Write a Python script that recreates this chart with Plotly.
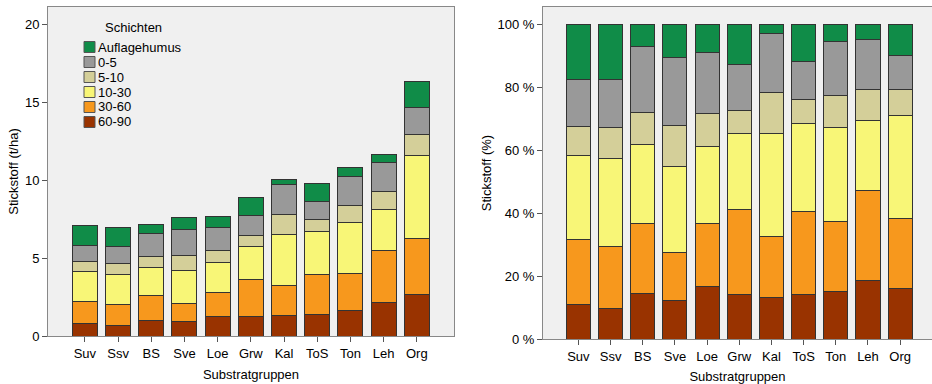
import plotly.graph_objects as go

categories = ["Suv", "Ssv", "BS", "Sve", "Loe", "Grw", "Kal", "ToS", "Ton", "Leh", "Org"]
layer_names = ["60-90", "30-60", "10-30", "5-10", "0-5", "Auflagehumus"]

# Stickstoff (t/ha) per layer
t_60_90 = [0.77, 0.68, 1.00, 0.94, 1.26, 1.24, 1.32, 1.39, 1.62, 2.16, 2.63]
t_30_60 = [1.47, 1.37, 1.61, 1.15, 1.56, 2.39, 1.93, 2.58, 2.40, 3.35, 3.63]
t_10_30 = [1.88, 1.92, 1.77, 2.08, 1.88, 2.14, 3.27, 2.76, 3.27, 2.59, 5.30]
t_5_10 = [0.64, 0.71, 0.73, 0.98, 0.81, 0.66, 1.30, 0.71, 1.06, 1.15, 1.37]
t_0_5 = [1.07, 1.05, 1.47, 1.69, 1.48, 1.28, 1.90, 1.19, 1.86, 1.86, 1.71]
t_aufl = [1.26, 1.24, 0.54, 0.77, 0.70, 1.16, 0.30, 1.16, 0.60, 0.54, 1.71]

# Stickstoff (%) per layer
p_60_90 = [10.8, 9.8, 14.4, 12.3, 16.6, 14.1, 13.2, 14.0, 15.1, 18.5, 16.1]
p_30_60 = [20.9, 19.6, 22.2, 15.2, 20.2, 26.9, 19.3, 26.5, 22.3, 28.5, 22.3]
p_10_30 = [26.5, 27.8, 25.0, 27.3, 24.3, 24.1, 32.6, 28.0, 29.8, 22.5, 32.4]
p_5_10 = [9.2, 10.1, 10.3, 13.0, 10.6, 7.4, 13.0, 7.5, 10.1, 9.8, 8.5]
p_0_5 = [14.9, 15.0, 20.9, 21.6, 19.4, 14.7, 19.0, 12.1, 17.3, 15.9, 10.6]
p_aufl = [17.7, 17.7, 7.2, 10.6, 8.9, 12.8, 2.9, 11.9, 5.4, 4.8, 10.1]

left_ticks = [0, 5, 10, 15, 20]
right_ticks = [0, 20, 40, 60, 80, 100]
right_ticklabels = ["0 %", "20 %", "40 %", "60 %", "80 %", "100 %"]

colors = ["#993300", "#f7981d", "#f8f677", "#d4cf99", "#999999", "#108c48"]

left_data = [t_60_90, t_30_60, t_10_30, t_5_10, t_0_5, t_aufl]
right_data = [p_60_90, p_30_60, p_10_30, p_5_10, p_0_5, p_aufl]

W, H = 932, 384
FONT = "Liberation Sans, Arial, sans-serif"
FS = 13
TXT = "#000000"

fig = go.Figure()
for name, col, lv in zip(layer_names, colors, left_data):
    fig.add_trace(go.Bar(x=categories, y=lv, name=name,
                         marker=dict(color=col, line=dict(color="#333333", width=1)),
                         xaxis="x", yaxis="y", showlegend=False))
for name, col, rv in zip(layer_names, colors, right_data):
    fig.add_trace(go.Bar(x=categories, y=rv, name=name,
                         marker=dict(color=col, line=dict(color="#333333", width=1)),
                         xaxis="x2", yaxis="y2", showlegend=False))

# Legend (drawn in paper pixels, top entry = last layer)
shapes = []
annotations = [dict(x=103 / W, y=1 - 28 / H, xref="paper", yref="paper", xanchor="left", yanchor="middle",
                    text="Schichten", showarrow=False, font=dict(family=FONT, size=FS, color=TXT))]
for i, (name, col) in enumerate(zip(reversed(layer_names), reversed(colors))):
    yc = 47 + 15 * i
    shapes.append(dict(type="rect", xref="paper", yref="paper",
                       x0=84 / W, x1=95 / W, y0=1 - (yc - 5.5) / H, y1=1 - (yc + 5.5) / H,
                       fillcolor=col, line=dict(color="#555555", width=1)))
    annotations.append(dict(x=96 / W, y=1 - yc / H, xref="paper", yref="paper", xanchor="left", yanchor="middle",
                            text=name, showarrow=False, font=dict(family=FONT, size=FS, color=TXT)))

axis_common = dict(showline=True, linecolor="#888888", linewidth=1, ticks="outside", ticklen=5,
                   tickcolor="#555555", showgrid=False, zeroline=False, automargin=False,
                   tickfont=dict(family=FONT, size=FS, color=TXT))

fig.update_layout(
    width=W, height=H,
    margin=dict(l=0, r=0, t=0, b=0),
    paper_bgcolor="white",
    plot_bgcolor="#f0f0f0",
    barmode="stack",
    bargap=0.25,
    font=dict(family=FONT, size=FS, color=TXT),
    shapes=shapes,
    annotations=annotations,
    xaxis=dict(domain=[48 / W, 454 / W], range=[-1.11, 11.12], anchor="y", mirror=True,
               title=dict(text="Substratgruppen", standoff=10, font=dict(size=FS)), **axis_common),
    yaxis=dict(domain=[1 - 336 / H, 1 - 7 / H], range=[0, 21.1], anchor="x", mirror=True,
               tickmode="array", tickvals=left_ticks,
               title=dict(text="Stickstoff (t/ha)", standoff=3, font=dict(size=FS)), **axis_common),
    xaxis2=dict(domain=[543 / W, 1.0], range=[-1.10, 10.99], anchor="y2", mirror=True,
                title=dict(text="Substratgruppen", standoff=9, font=dict(size=FS)), **axis_common),
    yaxis2=dict(domain=[1 - 339 / H, 1 - 7 / H], range=[0, 105.4], anchor="x2", mirror=True,
                tickmode="array", tickvals=right_ticks, ticktext=right_ticklabels,
                title=dict(text="Stickstoff (%)", standoff=2, font=dict(size=FS)), **axis_common),
)

fig.write_html("out.html", config={"displayModeBar": False},
               post_script="document.body.style.margin='0px';")
